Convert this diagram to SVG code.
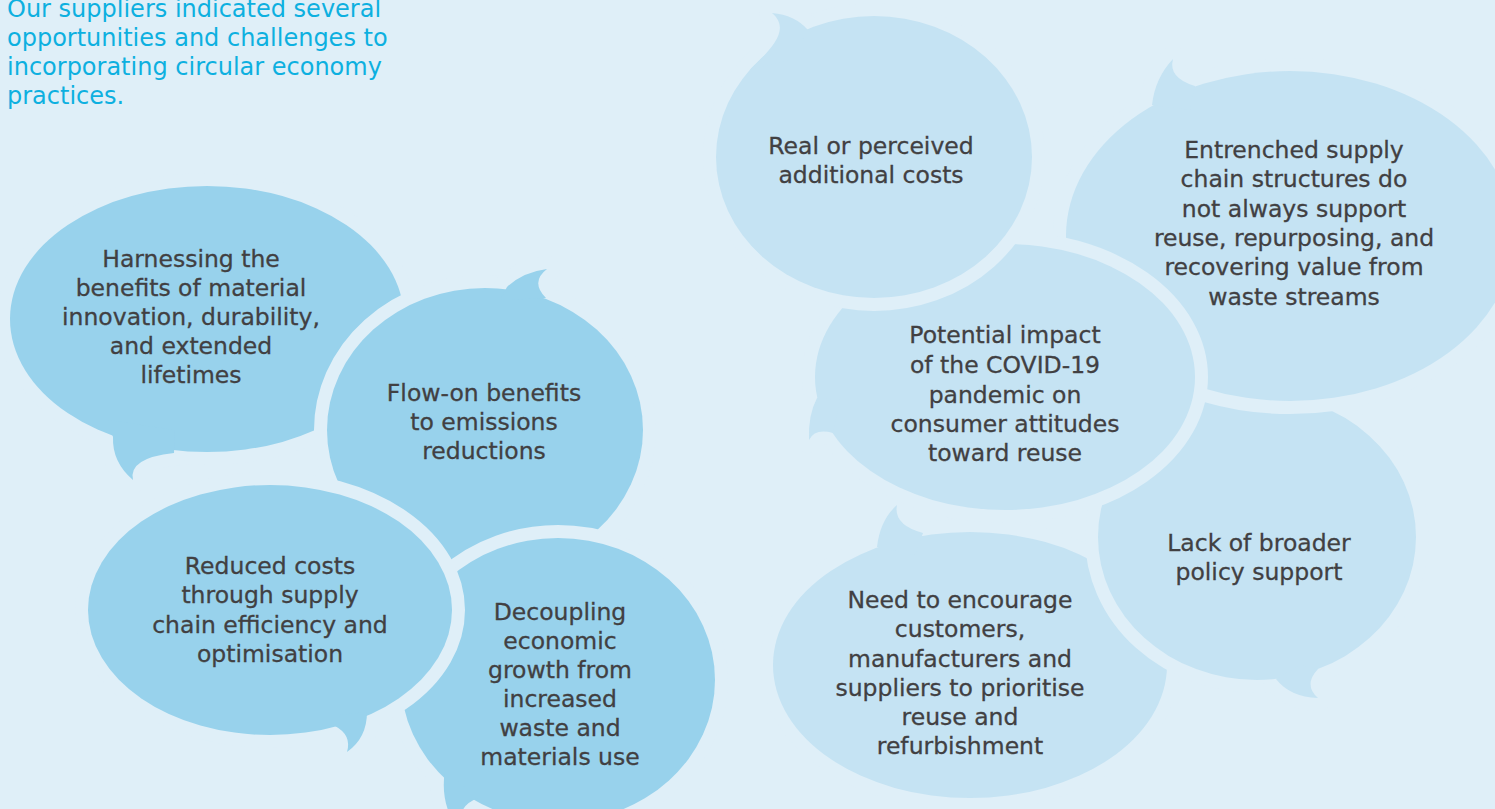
<svg xmlns="http://www.w3.org/2000/svg" xmlns:xlink="http://www.w3.org/1999/xlink" width="1495" height="809" viewBox="0 0 1495 809">
<style>
.gap{fill:#DFEFF8;stroke:#DFEFF8;stroke-width:26;stroke-linejoin:round}
.op{fill:#98D2EC}
.ch{fill:#C5E3F3}
.t{font-family:"DejaVu Sans",sans-serif;font-size:23.5px;fill:#414042;stroke:#414042;stroke-width:0.3;text-anchor:middle}
.h{font-family:"DejaVu Sans",sans-serif;font-size:24px;fill:#0DB0E0}
</style>
<defs>
<g id="s-harn"><ellipse cx="207" cy="319" rx="197" ry="133"/><path d="M108 420 L113 437 Q112 462 133 480 Q128 458 174 453 L175 430 Z"/></g>
<g id="s-flow"><ellipse cx="485" cy="430" rx="158" ry="142"/><path d="M500 300 L507 287 Q523 272 547 269 Q530 282 546 298 Z"/></g>
<g id="s-dec"><ellipse cx="558" cy="680" rx="157" ry="142"/><path d="M445 770 Q441 795 450 815 L462 812 Q465 803 478 798 Z"/></g>
<g id="s-red"><ellipse cx="270" cy="610" rx="182" ry="125"/><path d="M367 712 Q367 738 347 752 Q352 735 335 726 L340 715 Z"/></g>
<g id="s-need"><ellipse cx="970" cy="665" rx="197" ry="133"/><path d="M877 547 Q880 520 897 505 Q893 525 923 533 L915 555 Z"/></g>
<g id="s-lack"><ellipse cx="1257" cy="537" rx="159" ry="143"/><path d="M1276 679 Q1290 697 1318 698 Q1303 685 1318 669 L1300 665 Z"/></g>
<g id="s-ent"><ellipse cx="1290" cy="236" rx="224" ry="165"/><path d="M1152 105 Q1155 78 1173 59 Q1168 78 1195 86 L1190 110 Z"/></g>
<g id="s-cov"><ellipse cx="1005" cy="377" rx="190" ry="133"/><path d="M817 398 Q808 415 809 440 Q815 428 833 433 L840 400 Z"/></g>
<g id="s-real"><ellipse cx="874" cy="157" rx="158" ry="141"/><path d="M750 70 C770 50 792 30 772 13 Q795 15 808 30 L790 60 Z"/></g>
</defs>
<rect width="1495" height="809" fill="#DFEFF8"/>
<g id="heading">
<text class="h" x="7" y="17">Our suppliers indicated several</text>
<text class="h" x="7" y="46">opportunities and challenges to</text>
<text class="h" x="7" y="75">incorporating circular economy</text>
<text class="h" x="7" y="104">practices.</text>
</g>
<g id="harnessing">
<use xlink:href="#s-harn" class="gap"/><use xlink:href="#s-harn" class="op"/>
<text class="t" x="191" y="267">Harnessing the</text>
<text class="t" x="191" y="296">benefits of material</text>
<text class="t" x="191" y="325">innovation, durability,</text>
<text class="t" x="191" y="354">and extended</text>
<text class="t" x="191" y="383">lifetimes</text>
</g>
<g id="flow-on">
<use xlink:href="#s-flow" class="gap"/><use xlink:href="#s-flow" class="op"/>
<text class="t" x="484" y="401">Flow-on benefits</text>
<text class="t" x="484" y="430">to emissions</text>
<text class="t" x="484" y="459">reductions</text>
</g>
<g id="decoupling">
<use xlink:href="#s-dec" class="gap"/><use xlink:href="#s-dec" class="op"/>
<text class="t" x="560" y="620">Decoupling</text>
<text class="t" x="560" y="649">economic</text>
<text class="t" x="560" y="678">growth from</text>
<text class="t" x="560" y="707">increased</text>
<text class="t" x="560" y="736">waste and</text>
<text class="t" x="560" y="765">materials use</text>
</g>
<g id="reduced-costs">
<use xlink:href="#s-red" class="gap"/><use xlink:href="#s-red" class="op"/>
<text class="t" x="270" y="574">Reduced costs</text>
<text class="t" x="270" y="603">through supply</text>
<text class="t" x="270" y="633">chain efficiency and</text>
<text class="t" x="270" y="662">optimisation</text>
</g>
<g id="need">
<use xlink:href="#s-need" class="gap"/><use xlink:href="#s-need" class="ch"/>
<text class="t" x="960" y="608">Need to encourage</text>
<text class="t" x="960" y="637">customers,</text>
<text class="t" x="960" y="667">manufacturers and</text>
<text class="t" x="960" y="696">suppliers to prioritise</text>
<text class="t" x="960" y="725">reuse and</text>
<text class="t" x="960" y="754">refurbishment</text>
</g>
<g id="lack">
<use xlink:href="#s-lack" class="gap"/><use xlink:href="#s-lack" class="ch"/>
<text class="t" x="1259" y="551">Lack of broader</text>
<text class="t" x="1259" y="580">policy support</text>
</g>
<g id="entrenched">
<use xlink:href="#s-ent" class="gap"/><use xlink:href="#s-ent" class="ch"/>
<text class="t" x="1294" y="158">Entrenched supply</text>
<text class="t" x="1294" y="187">chain structures do</text>
<text class="t" x="1294" y="217">not always support</text>
<text class="t" x="1294" y="246">reuse, repurposing, and</text>
<text class="t" x="1294" y="275">recovering value from</text>
<text class="t" x="1294" y="305">waste streams</text>
</g>
<g id="covid">
<use xlink:href="#s-cov" class="gap"/><use xlink:href="#s-cov" class="ch"/>
<text class="t" x="1005" y="343">Potential impact</text>
<text class="t" x="1005" y="373">of the COVID-19</text>
<text class="t" x="1005" y="403">pandemic on</text>
<text class="t" x="1005" y="432">consumer attitudes</text>
<text class="t" x="1005" y="461">toward reuse</text>
</g>
<g id="real-costs">
<use xlink:href="#s-real" class="gap"/><use xlink:href="#s-real" class="ch"/>
<text class="t" x="871" y="154">Real or perceived</text>
<text class="t" x="871" y="183">additional costs</text>
</g>
</svg>
